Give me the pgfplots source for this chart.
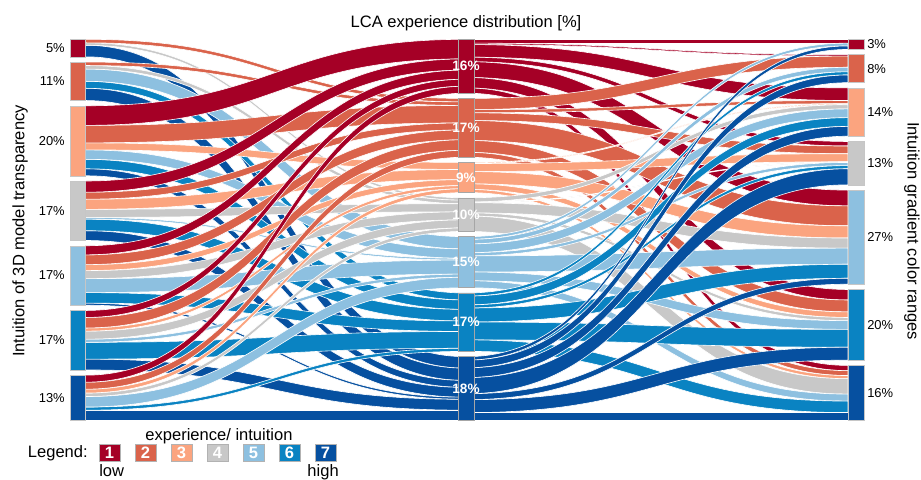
\documentclass[border=0pt]{standalone}
\usepackage{pgfplots}
\usepackage{pgfplotstable}
\pgfplotsset{compat=1.18}
\usepackage{fontspec}
\setmainfont{Liberation Sans}

\definecolor{c1}{HTML}{A50026}
\definecolor{c2}{HTML}{DA634B}
\definecolor{c3}{HTML}{FBA47F}
\definecolor{c4}{HTML}{C8C8C8}
\definecolor{c5}{HTML}{8DC0E0}
\definecolor{c6}{HTML}{0A83C2}
\definecolor{c7}{HTML}{0650A0}

% left category (3D model transparency) -> LCA experience (columns)
\pgfplotstableread{
src k1  k2  k3  k4  k5  k6  k7
1   0   1   0   0.7 0   0   3.3
2   0   1   0   1   3.5 2   3.5
3   5.6 5   2   0   2.7 2.7 2
4   3.2 2   2.9 2.3 0.5 3.3 2.8
5   2.6 2.8 1.7 2.3 4   3   0.6
6   2   3   0.9 2.3 0.9 4.8 3.1
7   2   2   1.1 1.0 3.0 0.9 3.0
}\flowLM

% LCA experience -> gradient color ranges (columns)
\pgfplotstableread{
src k1  k2  k3  k4  k5  k6  k7
1   1.1 0.4 3.6 1.3 4.5 3.0 1.5
2   0   3.2 0.9 2.2 5.7 3.4 1.4
3   0   0   0.3 2.3 3.5 1.6 0.9
4   0   0   1.2 0.2 2.9 0.9 4.4
5   0.8 1.3 2.5 0.9 4.6 2.5 2.0
6   0   0.9 2.5 0.9 4.0 5.1 3.3
7   1.0 2.2 2.8 4.6 1.7 3.7 2.3
}\flowMR

\def\gap{1.5}
\def\yO{39.3}
\def\yS{3.499}

\newcommand\pctfont{\fontsize{9.7}{11}\selectfont}
\newcommand\midfont{\fontsize{10.2}{12}\selectfont\bfseries}
\newcommand\titfont{\fontsize{12.4}{14}\selectfont}

% read the tables
\foreach \i in {1,...,7}{%
  \foreach \j in {1,...,7}{%
    \pgfmathtruncatemacro\r{\i-1}%
    \pgfplotstablegetelem{\r}{k\j}\of\flowLM
    \expandafter\xdef\csname A-\i-\j\endcsname{\pgfplotsretval}%
    \pgfplotstablegetelem{\r}{k\j}\of\flowMR
    \expandafter\xdef\csname B-\i-\j\endcsname{\pgfplotsretval}%
  }%
}

% left column layout
\gdef\cur{0}
\foreach \i in {1,...,7}{%
  \expandafter\xdef\csname LT-\i\endcsname{\cur}%
  \foreach \j in {1,...,7}{%
    \expandafter\xdef\csname LY-\i-\j\endcsname{\cur}%
    \edef\v{\csname A-\i-\j\endcsname}%
    \pgfmathsetmacro\t{\cur+\v}\xdef\cur{\t}%
  }%
  \expandafter\xdef\csname LB-\i\endcsname{\cur}%
  \pgfmathsetmacro\t{\cur+\gap}\xdef\cur{\t}%
}
% middle column, incoming
\gdef\cur{0}
\foreach \j in {1,...,7}{%
  \expandafter\xdef\csname MT-\j\endcsname{\cur}%
  \foreach \i in {1,...,7}{%
    \expandafter\xdef\csname MI-\i-\j\endcsname{\cur}%
    \edef\v{\csname A-\i-\j\endcsname}%
    \pgfmathsetmacro\t{\cur+\v}\xdef\cur{\t}%
  }%
  \expandafter\xdef\csname MB-\j\endcsname{\cur}%
  \pgfmathsetmacro\t{\cur+\gap}\xdef\cur{\t}%
}
% middle column, outgoing
\gdef\cur{0}
\foreach \j in {1,...,7}{%
  \foreach \k in {1,...,7}{%
    \expandafter\xdef\csname MO-\j-\k\endcsname{\cur}%
    \edef\v{\csname B-\j-\k\endcsname}%
    \pgfmathsetmacro\t{\cur+\v}\xdef\cur{\t}%
  }%
  \pgfmathsetmacro\t{\cur+\gap}\xdef\cur{\t}%
}
% right column, incoming
\gdef\cur{0}
\foreach \k in {1,...,7}{%
  \expandafter\xdef\csname RT-\k\endcsname{\cur}%
  \foreach \j in {1,...,7}{%
    \expandafter\xdef\csname RI-\j-\k\endcsname{\cur}%
    \edef\v{\csname B-\j-\k\endcsname}%
    \pgfmathsetmacro\t{\cur+\v}\xdef\cur{\t}%
  }%
  \expandafter\xdef\csname RB-\k\endcsname{\cur}%
  \pgfmathsetmacro\t{\cur+\gap}\xdef\cur{\t}%
}

\newcommand\ribbon[6]{%
  \pgfmathsetmacro\pa{\yO+\yS*(#2)}%
  \pgfmathsetmacro\pb{\yO+\yS*(#4)}%
  \pgfmathsetmacro\pc{\yO+\yS*(#2+#5)}%
  \pgfmathsetmacro\pd{\yO+\yS*(#4+#5)}%
  \pgfmathsetmacro\xm{(#1+#3)/2}%
  \edef\temp{\noexpand\fill[#6,draw=white,line width=0.45pt]
    (axis cs:#1,\pa) .. controls (axis cs:\xm,\pa) and (axis cs:\xm,\pb) .. (axis cs:#3,\pb)
    -- (axis cs:#3,\pd) .. controls (axis cs:\xm,\pd) and (axis cs:\xm,\pc) .. (axis cs:#1,\pc) -- cycle;}%
  \temp
}

\begin{document}
\begin{tikzpicture}
\begin{axis}[
  scale only axis, width=690.75pt, height=358.5pt,
  xmin=0, xmax=921, ymin=0, ymax=478, y dir=reverse,
  axis lines=none, clip=false, ticks=none]
\path (axis cs:0,0) rectangle (axis cs:921,478);

% left half ribbons
\foreach \j in {7,6,...,1}{%
  \foreach \i in {1,...,7}{%
    \edef\w{\csname A-\i-\j\endcsname}%
    \ifdim\w pt>0pt
      \ribbon{85}{\csname LY-\i-\j\endcsname}{466}{\csname MI-\i-\j\endcsname}{\w}{c\j}%
    \fi
  }%
}
% right half ribbons
\foreach \j in {1,...,7}{%
  \foreach \k in {1,...,7}{%
    \edef\w{\csname B-\j-\k\endcsname}%
    \ifdim\w pt>0pt
      \ribbon{466}{\csname MO-\j-\k\endcsname}{848}{\csname RI-\j-\k\endcsname}{\w}{c\j}%
    \fi
  }%
}

% strata
\foreach \i/\lab in {1/5,2/11,3/20,4/17,5/17,6/17,7/13}{%
  \pgfmathsetmacro\pa{\yO+\yS*\csname LT-\i\endcsname}%
  \pgfmathsetmacro\pb{\yO+\yS*\csname LB-\i\endcsname}%
  \pgfmathsetmacro\pmid{(\pa+\pb)/2}%
  \edef\temp{\noexpand\fill[c\i,draw=gray!45,line width=0.35pt] (axis cs:70,\pa) rectangle (axis cs:85,\pb);
    \noexpand\node[anchor=east,inner sep=0pt,font=\noexpand\pctfont] at (axis cs:65,\pmid) {\lab\noexpand\%};}%
  \temp
}
\foreach \j/\lab in {1/16,2/17,3/9,4/10,5/15,6/17,7/18}{%
  \pgfmathsetmacro\pa{\yO+\yS*\csname MT-\j\endcsname}%
  \pgfmathsetmacro\pb{\yO+\yS*\csname MB-\j\endcsname}%
  \pgfmathsetmacro\pmid{(\pa+\pb)/2}%
  \edef\temp{\noexpand\fill[c\j,draw=gray!70,line width=0.4pt] (axis cs:458,\pa) rectangle (axis cs:474,\pb);
    \noexpand\node[inner sep=0pt,text=white,font=\noexpand\midfont] at (axis cs:466,\pmid) {\lab\noexpand\%};}%
  \temp
}
\foreach \k/\lab in {1/3,2/8,3/14,4/13,5/27,6/20,7/16}{%
  \pgfmathsetmacro\pa{\yO+\yS*\csname RT-\k\endcsname}%
  \pgfmathsetmacro\pb{\yO+\yS*\csname RB-\k\endcsname}%
  \pgfmathsetmacro\pmid{(\pa+\pb)/2}%
  \edef\temp{\noexpand\fill[c\k,draw=gray!45,line width=0.35pt] (axis cs:848,\pa) rectangle (axis cs:864,\pb);
    \noexpand\node[anchor=west,inner sep=0pt,font=\noexpand\pctfont] at (axis cs:867,\pmid) {\lab\noexpand\%};}%
  \temp
}

% titles
\node[anchor=base,inner sep=0pt,font=\titfont] at (axis cs:466,28) {LCA experience distribution [\%]};
\node[rotate=90,inner sep=0pt,font=\titfont] at (axis cs:20,231) {Intuition of 3D model transparency};
\node[rotate=-90,inner sep=0pt,font=\titfont] at (axis cs:912,231) {Intuition gradient color ranges};

% legend
\node[anchor=base east,inner sep=0pt,font=\titfont] at (axis cs:88,457.5) {Legend:};
\node[anchor=base,inner sep=0pt,font=\titfont] at (axis cs:219,440.7) {experience/ intuition};
\foreach \n/\x in {1/99,2/135,3/171,4/207,5/243,6/279,7/315}{%
  \edef\temp{\noexpand\fill[c\n,draw=gray!60,line width=0.4pt] (axis cs:\x,444) rectangle (axis cs:\x+21,461.5);
   \noexpand\node[inner sep=0pt,text=white,font=\noexpand\titfont\noexpand\bfseries] at (axis cs:\x+10.5,452.8) {\n};}%
  \temp
}
\node[anchor=base west,inner sep=0pt,font=\titfont] at (axis cs:99,476.5) {low};
\node[anchor=base east,inner sep=0pt,font=\titfont] at (axis cs:339,476.5) {high};
\end{axis}
\end{tikzpicture}
\end{document}
